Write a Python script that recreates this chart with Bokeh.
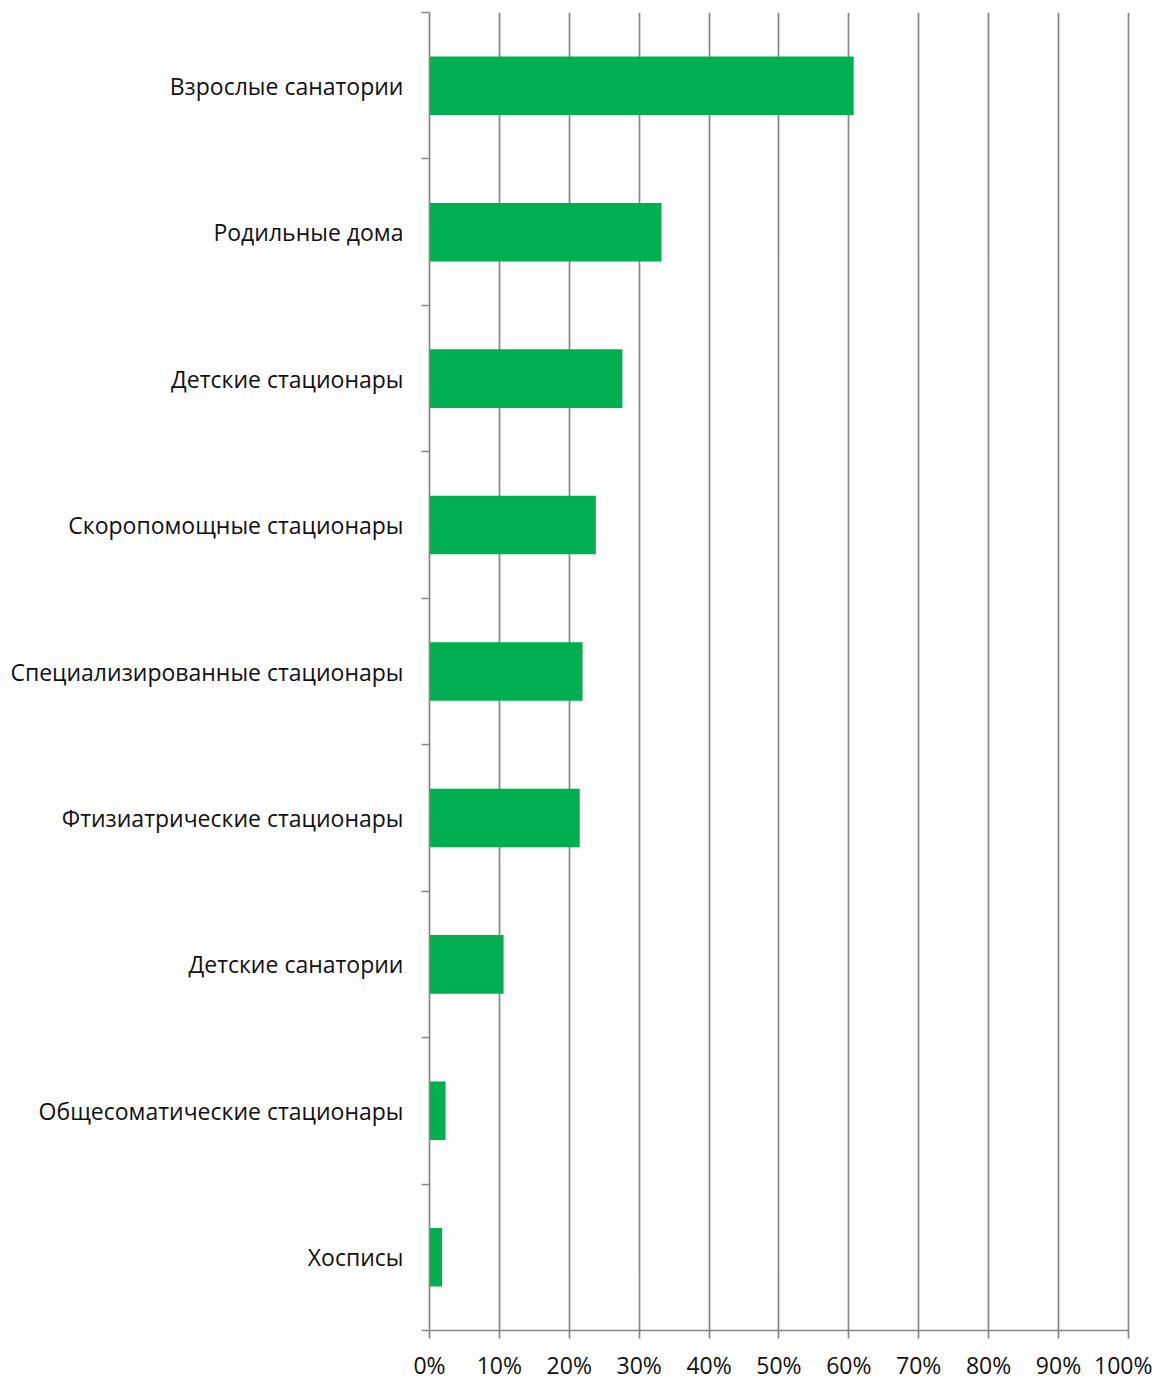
from bokeh.plotting import figure
from bokeh.models import ColumnDataSource, FixedTicker, Range1d
from bokeh.embed import file_html
from bokeh.resources import INLINE

categories = [
    "Взрослые санатории",
    "Родильные дома",
    "Детские стационары",
    "Скоропомощные стационары",
    "Специализированные стационары",
    "Фтизиатрические стационары",
    "Детские санатории",
    "Общесоматические стационары",
    "Хосписы",
]
values = [60.7, 33.2, 27.6, 23.8, 21.9, 21.5, 10.6, 2.3, 1.8]
x_ticks = [0, 10, 20, 30, 40, 50, 60, 70, 80, 90, 100]

n = len(categories)
ypos = [n - i - 0.5 for i in range(n)]
src = ColumnDataSource(dict(y=ypos, v=values, cat=categories))

p = figure(output_backend="svg", toolbar_location=None,
           frame_width=701, frame_height=1318,
           min_border_left=429, min_border_top=12, min_border_right=22, min_border_bottom=40,
           x_range=Range1d(0, 100.3), y_range=Range1d(0, n))
p.outline_line_color = None
p.background_fill_color = "white"

p.hbar(y="y", right="v", left=0, height=0.4, source=src,
       fill_color="#00B050", line_color=None)

grey = "#868686"
font = "Open Sans"

# x axis
xa = p.xaxis[0]
xa.ticker = FixedTicker(ticks=x_ticks)
xa.bounds = (x_ticks[0], x_ticks[-1])
xa.major_label_overrides = {t: f"{t}%" for t in x_ticks}
xa.axis_line_color = grey
xa.axis_line_width = 1.7
xa.major_tick_line_color = grey
xa.major_tick_line_width = 1.7
xa.major_tick_in = 0
xa.major_tick_out = 8
xa.minor_tick_line_color = None
xa.major_label_text_font = font
xa.major_label_text_font_size = "23px"
xa.major_label_text_color = "#111111"
xa.major_label_standoff = 10

# y axis
ya = p.yaxis[0]
ya.ticker = FixedTicker(ticks=ypos, minor_ticks=list(range(n + 1)))
ya.major_label_overrides = {y: c for y, c in zip(ypos, categories)}
ya.axis_line_color = grey
ya.axis_line_width = 1.7
ya.major_tick_line_color = None
ya.major_tick_in = 0
ya.major_tick_out = 0
ya.minor_tick_line_color = grey
ya.minor_tick_line_width = 1.7
ya.minor_tick_in = 0
ya.minor_tick_out = 8
ya.major_label_text_font = font
ya.major_label_text_font_size = "23px"
ya.major_label_text_color = "#111111"
ya.major_label_standoff = 18

p.xgrid.ticker = FixedTicker(ticks=x_ticks)
p.xgrid.grid_line_color = grey
p.xgrid.grid_line_width = 1.7
p.ygrid.grid_line_color = None

open("out.html", "w").write(file_html(p, INLINE))
